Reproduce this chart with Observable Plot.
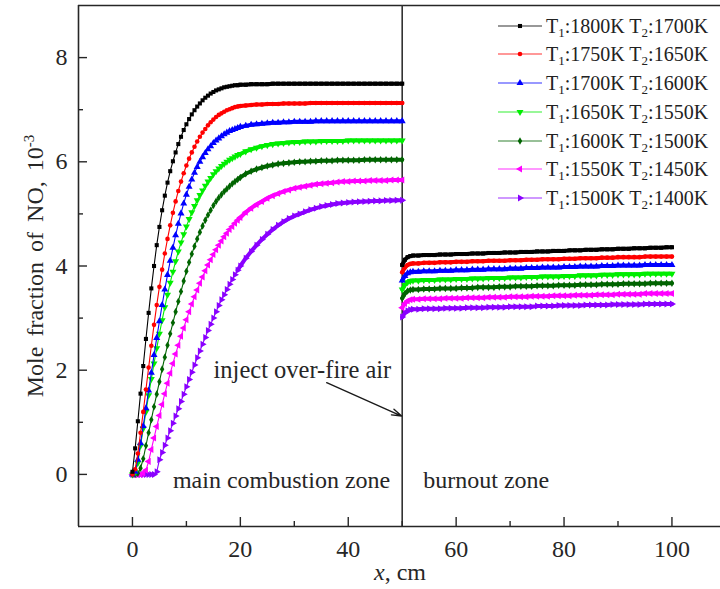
<!DOCTYPE html>
<html><head><meta charset="utf-8">
<script src="https://cdn.jsdelivr.net/npm/d3@7"></script>
<script src="https://cdn.jsdelivr.net/npm/@observablehq/plot@0.6"></script>
<style>
html,body{margin:0;padding:0;background:#fff;}
#wrap{position:relative;width:720px;height:589px;overflow:hidden;}
.lg{position:absolute;left:0;height:24px;font-family:"Liberation Serif",serif;font-size:20px;color:#222;white-space:nowrap;line-height:24px;}
.lg sub{font-size:13px;vertical-align:-4px;line-height:0;}
.lg svg{position:absolute;top:0;}
</style></head>
<body><div id="wrap"></div>
<script>
// ---------- data ----------
const mainX = [0,0.5,1,1.5,2,2.5,3,3.5,4,4.5,
  5,5.5,6,6.5,7,7.5,8,8.5,9,9.5,
  10,10.5,11,11.5,12,12.5,13,13.5,14,14.5,
  15,15.5,16,16.5,17,17.5,18,18.5,19,19.5,
  20,
  21,22,23,24,25,26,27,28,29,30,
  31,32,33,34,35,36,37,38,39,40,
  41,42,43,44,45,46,47,48,49,50];
const burnX = [50,50.5,51,51.5,52,
  53,54,55,56,57,58,59,60,61,62,
  63,64,65,66,67,68,69,70,71,72,
  73,74,75,76,77,78,79,80,81,82,
  83,84,85,86,87,88,89,90,91,92,
  93,94,95,96,97,98,99,100];

const labelsT1 = ["1800","1750","1700","1650","1600","1550","1500"];
const labelsT2 = ["1700","1650","1600","1550","1500","1450","1400"];
const colors = ["#000000","#ff0000","#0000ff","#00ee00","#006400","#ff00ff","#8a00ff"];
const symbols = ["square","circle","triangle","triangle","diamond","triangle","triangle"];
const rotations = [0,0,0,180,0,-90,90];

const no1800Main = [0.05,0.5,1.02,1.55,2.08,2.6,3.1,3.57,4.0,4.4,
  4.75,5.07,5.35,5.6,5.82,6.01,6.18,6.34,6.48,6.61,
  6.72,6.82,6.91,6.99,7.06,7.12,7.18,7.23,7.27,7.31,
  7.34,7.37,7.39,7.41,7.43,7.44,7.45,7.46,7.47,7.47,
  7.48,
  7.48,7.49,7.49,7.49,7.49,7.5,7.5,7.5,7.5,7.5,
  7.5,7.5,7.5,7.5,7.5,7.5,7.5,7.5,7.5,7.5,
  7.5,7.5,7.5,7.5,7.5,7.5,7.5,7.5,7.5,7.5];
const no1750Main = [0,0.1,0.4,0.8,1.2,1.63,2.05,2.47,2.87,3.25,
  3.6,3.93,4.24,4.52,4.78,5.02,5.24,5.44,5.62,5.78,
  5.93,6.06,6.18,6.29,6.39,6.48,6.56,6.63,6.7,6.76,
  6.81,6.86,6.9,6.93,6.96,6.99,7.01,7.03,7.05,7.06,
  7.07,
  7.08,7.09,7.1,7.1,7.11,7.11,7.11,7.12,7.12,7.12,
  7.12,7.12,7.13,7.13,7.13,7.13,7.13,7.13,7.13,7.13,
  7.13,7.13,7.13,7.13,7.13,7.13,7.13,7.13,7.13,7.13];
const no1700Main = [0,0.05,0.28,0.6,0.93,1.27,1.61,1.95,2.29,2.62,
  2.94,3.25,3.55,3.83,4.1,4.35,4.59,4.81,5.01,5.2,
  5.37,5.52,5.66,5.79,5.9,6.0,6.09,6.17,6.24,6.3,
  6.36,6.41,6.45,6.49,6.53,6.56,6.59,6.61,6.63,6.65,
  6.67,
  6.69,6.71,6.72,6.73,6.74,6.75,6.75,6.76,6.76,6.77,
  6.77,6.77,6.77,6.78,6.78,6.78,6.78,6.78,6.78,6.78,
  6.78,6.78,6.78,6.78,6.78,6.78,6.78,6.78,6.78,6.78];
const no1650Main = [0,0.03,0.22,0.55,0.88,1.2,1.52,1.83,2.13,2.42,
  2.7,2.96,3.21,3.45,3.68,3.89,4.09,4.28,4.45,4.61,
  4.76,4.9,5.03,5.15,5.26,5.36,5.45,5.54,5.62,5.69,
  5.76,5.82,5.87,5.92,5.96,6.0,6.04,6.07,6.1,6.13,
  6.15,
  6.2,6.24,6.27,6.3,6.32,6.34,6.35,6.36,6.37,6.38,
  6.38,6.39,6.39,6.39,6.4,6.4,6.4,6.4,6.4,6.41,
  6.41,6.41,6.41,6.41,6.41,6.41,6.41,6.41,6.41,6.41];
const no1600Main = [0,0,0.02,0.12,0.3,0.55,0.8,1.05,1.3,1.54,
  1.78,2.02,2.25,2.48,2.7,2.91,3.12,3.32,3.51,3.71,
  3.9,4.07,4.23,4.38,4.52,4.65,4.77,4.88,4.98,5.07,
  5.16,5.24,5.31,5.37,5.43,5.48,5.53,5.58,5.62,5.66,
  5.7,
  5.77,5.82,5.86,5.89,5.92,5.94,5.96,5.97,5.98,5.99,
  6.0,6.0,6.01,6.01,6.02,6.02,6.02,6.03,6.03,6.03,
  6.03,6.03,6.04,6.04,6.04,6.04,6.04,6.04,6.04,6.04];
const no1550Main = [0,0,0,0,0.02,0.08,0.25,0.48,0.7,0.92,
  1.13,1.34,1.55,1.75,1.94,2.13,2.31,2.48,2.65,2.81,
  2.97,3.12,3.27,3.41,3.54,3.67,3.79,3.91,4.02,4.12,
  4.22,4.31,4.4,4.48,4.56,4.63,4.7,4.76,4.82,4.88,
  4.93,
  5.03,5.11,5.18,5.24,5.3,5.35,5.39,5.43,5.46,5.49,
  5.51,5.53,5.55,5.57,5.58,5.59,5.6,5.61,5.62,5.62,
  5.63,5.63,5.63,5.64,5.64,5.64,5.64,5.65,5.65,5.65];
const no1500Main = [0,0,0,0,0,0,0,0,0,0.05,
  0.28,0.42,0.56,0.7,0.84,0.98,1.12,1.26,1.4,1.54,
  1.68,1.82,1.96,2.1,2.24,2.37,2.5,2.63,2.76,2.88,
  3.0,3.12,3.24,3.35,3.45,3.55,3.65,3.74,3.83,3.92,
  4.0,
  4.15,4.28,4.4,4.51,4.61,4.7,4.78,4.85,4.91,4.96,
  5.0,5.04,5.08,5.11,5.14,5.16,5.18,5.2,5.21,5.22,
  5.23,5.235,5.24,5.245,5.25,5.25,5.255,5.255,5.26,5.26];

const no1800Burn = [4.02,4.12,4.17,4.19,4.2,
  4.2,4.21,4.21,4.21,4.22,4.22,4.22,4.23,4.23,4.23,
  4.24,4.24,4.24,4.25,4.25,4.25,4.26,4.26,4.26,4.27,
  4.27,4.27,4.28,4.28,4.28,4.29,4.29,4.29,4.3,4.3,
  4.3,4.31,4.31,4.31,4.32,4.32,4.32,4.33,4.33,4.33,
  4.34,4.34,4.34,4.35,4.35,4.35,4.36,4.36];
const no1750Burn = [3.88,3.97,4.02,4.04,4.05,
  4.05,4.06,4.06,4.06,4.07,4.07,4.07,4.08,4.08,4.08,
  4.09,4.09,4.09,4.1,4.1,4.1,4.1,4.11,4.11,4.11,
  4.12,4.12,4.12,4.13,4.13,4.13,4.13,4.14,4.14,4.14,
  4.15,4.15,4.15,4.15,4.16,4.16,4.16,4.17,4.17,4.17,
  4.17,4.17,4.18,4.18,4.18,4.18,4.18,4.18];
const no1700Burn = [3.72,3.81,3.86,3.88,3.89,
  3.89,3.9,3.9,3.9,3.91,3.91,3.91,3.92,3.92,3.92,
  3.93,3.93,3.93,3.94,3.94,3.94,3.94,3.95,3.95,3.95,
  3.96,3.96,3.96,3.97,3.97,3.97,3.97,3.98,3.98,3.98,
  3.99,3.99,3.99,3.99,4.0,4.0,4.0,4.01,4.01,4.01,
  4.01,4.01,4.02,4.02,4.02,4.02,4.02,4.02];
const no1650Burn = [3.55,3.64,3.69,3.71,3.72,
  3.72,3.73,3.73,3.73,3.74,3.74,3.74,3.75,3.75,3.75,
  3.76,3.76,3.76,3.77,3.77,3.77,3.77,3.78,3.78,3.78,
  3.79,3.79,3.79,3.8,3.8,3.8,3.8,3.81,3.81,3.81,
  3.82,3.82,3.82,3.82,3.83,3.83,3.83,3.84,3.84,3.84,
  3.84,3.84,3.85,3.85,3.85,3.85,3.85,3.85];
const no1600Burn = [3.38,3.47,3.52,3.54,3.55,
  3.55,3.56,3.56,3.56,3.57,3.57,3.57,3.57,3.58,3.58,
  3.58,3.59,3.59,3.59,3.59,3.6,3.6,3.6,3.61,3.61,
  3.61,3.61,3.62,3.62,3.62,3.62,3.63,3.63,3.63,3.63,
  3.64,3.64,3.64,3.64,3.65,3.65,3.65,3.65,3.66,3.66,
  3.66,3.66,3.66,3.67,3.67,3.67,3.67,3.67];
const no1550Burn = [3.2,3.28,3.33,3.35,3.36,
  3.36,3.37,3.37,3.37,3.37,3.38,3.38,3.38,3.38,3.39,
  3.39,3.39,3.39,3.4,3.4,3.4,3.4,3.41,3.41,3.41,
  3.41,3.42,3.42,3.42,3.42,3.43,3.43,3.43,3.43,3.44,
  3.44,3.44,3.44,3.45,3.45,3.45,3.45,3.46,3.46,3.46,
  3.46,3.46,3.47,3.47,3.47,3.47,3.47,3.47];
const no1500Burn = [3.02,3.1,3.14,3.16,3.17,
  3.17,3.18,3.18,3.18,3.18,3.19,3.19,3.19,3.19,3.2,
  3.2,3.2,3.2,3.21,3.21,3.21,3.21,3.22,3.22,3.22,
  3.22,3.22,3.23,3.23,3.23,3.23,3.24,3.24,3.24,3.24,
  3.24,3.25,3.25,3.25,3.25,3.25,3.26,3.26,3.26,3.26,
  3.26,3.26,3.27,3.27,3.27,3.27,3.27,3.27];

const mainSeries = [no1800Main,no1750Main,no1700Main,no1650Main,no1600Main,no1550Main,no1500Main];
const burnSeries = [no1800Burn,no1750Burn,no1700Burn,no1650Burn,no1600Burn,no1550Burn,no1500Burn];

const xMajor = [0,20,40,60,80,100];
const xMinor = [10,30,70,90];
const yMajor = [0,2,4,6,8];
const yMinor = [1,3,5,7];

const zoneNotes = [
  {text:"main combustion zone", x:7.5, y:-0.12},
  {text:"burnout zone", x:53.9, y:-0.12}
];
const injectNote = [{text:"inject over-fire air", x:31.5, y:2.0}];
const arrowData = [{x1:36.0, y1:1.76, x2:49.9, y2:1.12}];
const divider = [50];

// ---------- layout ----------
const W = 720, H = 589, mL = 78, mR = 0, mT = 5, mB = 63;
const plotW = W - mL - mR, plotH = H - mT - mB;
const ink = "#262626";
const serif = "'Liberation Serif','Times New Roman',serif";
const denseEnd = 19.5;

const marks = [];
marks.push(Plot.ruleY([-1, 9], {stroke: ink, strokeWidth: 1.6}));
marks.push(Plot.ruleX([-10], {stroke: ink, strokeWidth: 1.6}));
marks.push(Plot.ruleX(divider, {stroke: "#333", strokeWidth: 1.6}));
marks.push(Plot.tickX(xMajor, {x: d => d, insetTop: plotH - 9, stroke: ink, strokeWidth: 1.4}));
marks.push(Plot.tickX(xMinor.concat(divider), {x: d => d, insetTop: plotH - 5, stroke: ink, strokeWidth: 1.4}));
marks.push(Plot.tickY(yMajor, {y: d => d, insetRight: plotW - 9, stroke: ink, strokeWidth: 1.4}));
marks.push(Plot.tickY(yMinor, {y: d => d, insetRight: plotW - 5, stroke: ink, strokeWidth: 1.4}));

for (let i = 6; i >= 0; i--) {
  const rows = [];
  mainX.forEach((x, j) => rows.push({x, y: mainSeries[i][j], zone: "main"}));
  burnX.forEach((x, j) => rows.push({x, y: burnSeries[i][j], zone: "burn"}));
  const flat = rows.filter(d => d.x >= denseEnd);
  marks.push(Plot.line(rows, {x: "x", y: "y", z: "zone", stroke: colors[i], strokeWidth: 1.1}));
  marks.push(Plot.line(flat, {x: "x", y: "y", z: "zone", stroke: colors[i], strokeWidth: 4, strokeLinecap: "round"}));
  marks.push(Plot.dot(rows, {x: "x", y: "y", symbol: symbols[i], rotate: rotations[i], r: symbols[i]==="triangle" ? 2.6 : 2.3, fill: colors[i], stroke: "none"}));
}

marks.push(Plot.text(zoneNotes, {x: "x", y: "y", text: "text", textAnchor: "start", fill: ink, fontSize: 24}));
marks.push(Plot.text(injectNote, {x: "x", y: "y", text: "text", textAnchor: "middle", fill: ink, fontSize: 24.5}));
marks.push(Plot.arrow(arrowData, {x1: "x1", y1: "y1", x2: "x2", y2: "y2", stroke: "#1a1a1a", strokeWidth: 1.4, headLength: 11, headAngle: 35}));

const chart = Plot.plot({
  width: W, height: H,
  marginLeft: mL, marginRight: mR, marginTop: mT, marginBottom: mB,
  style: {fontFamily: serif, fontSize: "24px", color: ink, background: "#fff", overflow: "visible"},
  x: {domain: [-10, 109], ticks: xMajor, tickSize: 0, tickPadding: 13, label: null},
  y: {domain: [-1, 9], ticks: yMajor, tickSize: 0, tickPadding: 11, label: null},
  marks
});

const wrap = document.getElementById("wrap");
wrap.appendChild(chart);

const svg = d3.select(chart);
const xl = svg.append("text").attr("x", (mL + W) / 2 + 1).attr("y", 580)
  .attr("text-anchor", "middle").attr("fill", ink).style("font-family", serif).style("font-size", "24px");
xl.append("tspan").attr("font-style", "italic").text("x");
xl.append("tspan").text(", cm");

const yl = svg.append("text").attr("transform", "translate(43,266) rotate(-90)")
  .attr("text-anchor", "middle").attr("fill", ink).style("font-family", serif).style("font-size", "24px")
  .style("word-spacing", "4px");
yl.append("tspan").text("Mole fraction of NO, 10");
yl.append("tspan").attr("dy", "-9").style("font-size", "15px").text("-3");

const symMap = {square: d3.symbolSquare, circle: d3.symbolCircle, triangle: d3.symbolTriangle, diamond: d3.symbolDiamond};
for (let i = 0; i < 7; i++) {
  const cy = 25.7 + i * 28.7;
  const row = document.createElement("div");
  row.className = "lg";
  row.style.top = (cy - 12) + "px";
  row.style.left = "496px";
  const r = symbols[i]==="triangle" ? 2.6 : 2.3;
  const path = d3.symbol(symMap[symbols[i]], Math.PI * r * r)();
  row.innerHTML = `<svg width="48" height="24" style="left:0"><line x1="2" x2="46" y1="12" y2="12" stroke="${colors[i]}" stroke-width="1.1" opacity="0.8"/><path d="${path}" transform="translate(24,12) rotate(${rotations[i]})" fill="${colors[i]}"/></svg><span style="position:absolute;left:50px;top:0">T<sub>1</sub>:${labelsT1[i]}K T<sub>2</sub>:${labelsT2[i]}K</span>`;
  wrap.appendChild(row);
}
</script>
</body></html>
